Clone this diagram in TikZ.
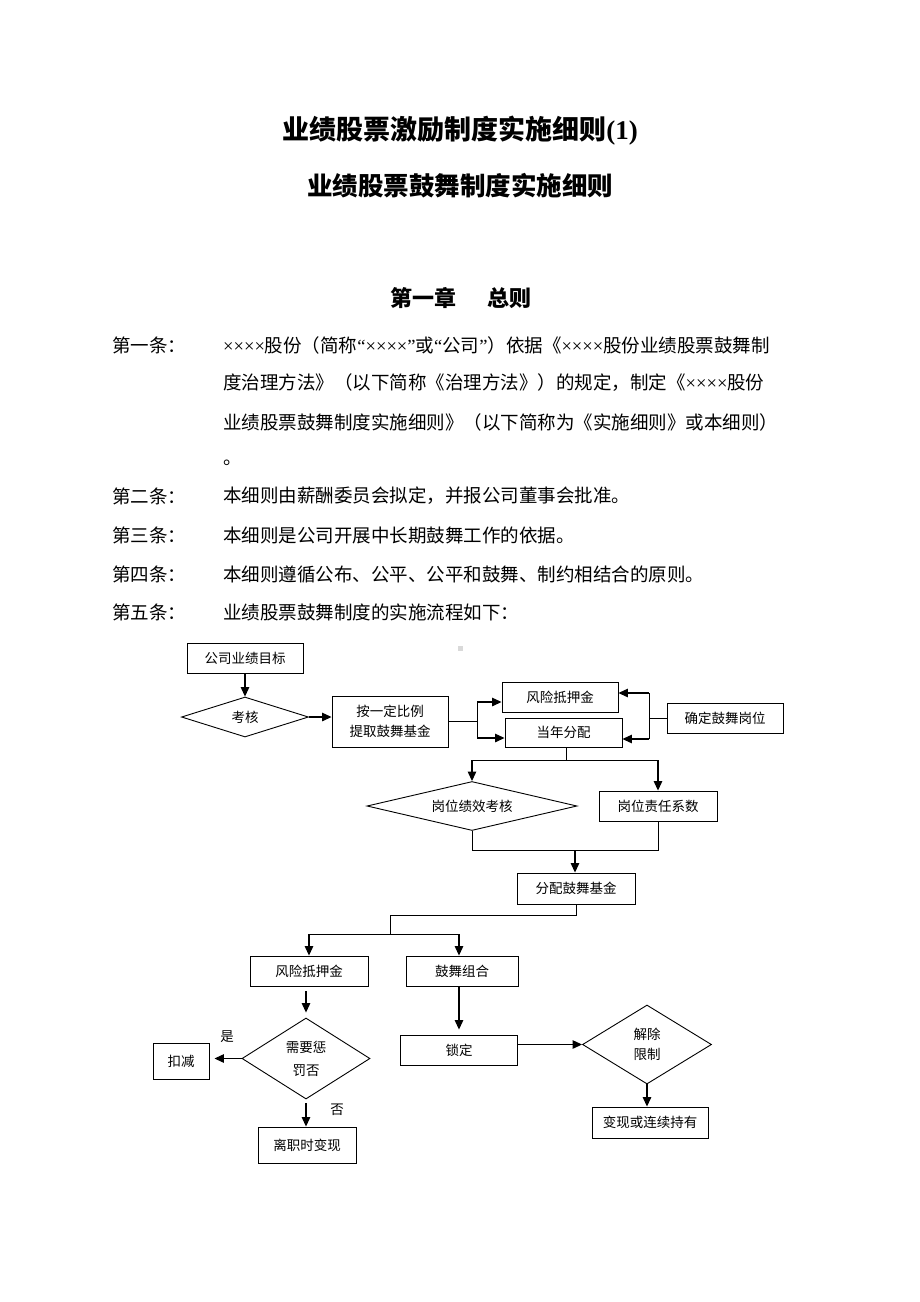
\documentclass[tikz,border=0pt]{standalone}
\usepackage{fontspec}
\setmainfont{Noto Sans CJK SC}
\newfontfamily\latfont{Liberation Serif}
\usetikzlibrary{arrows.meta,shapes.geometric}
\newcommand\fcf{\fontsize{13.5}{20}\selectfont}
\newcommand\bodyf{\fontsize{18.5}{22}\selectfont}
\newcommand\lat[1]{{\latfont #1}}
\begin{document}
\begin{tikzpicture}[x=1pt,y=-1pt,
  box/.style={draw, line width=0.9pt, inner sep=0pt, align=center, font=\fcf},
  dia/.style={diamond, draw, line width=0.9pt, inner sep=0pt, align=center, font=\fcf},
  conn/.style={line width=0.9pt},
  arr/.style={line width=1.2pt, -{Triangle[length=9.5pt,width=8.5pt]}},
  body/.style={anchor=west, inner sep=0pt, font=\bodyf},
  lbl/.style={inner sep=0pt, font=\fcf}]
\fill[white] (0,0) rectangle (920,1302);
\path[use as bounding box] (0,0) rectangle (920,1302);

% titles
\node[font=\fontsize{27}{31}\selectfont\bfseries] (t1) at (460,131) {业绩股票激励制度实施细则{\latfont\bfseries(1)}};
\node[font=\fontsize{25.5}{29}\selectfont\bfseries] (t2) at (460,186) {业绩股票鼓舞制度实施细则};
\node[font=\fontsize{22}{26}\selectfont\bfseries] (t3) at (461,298) {第一章\hspace{32pt}总则};

% body
\node[body] (a1l) at (112,345) {第一条：};
\node[body] (a1t1) at (223,345) {\lat{××××}股份（简称\lat{“××××”}或\lat{“}公司\lat{”}）依据《\lat{××××}股份业绩股票鼓舞制};
\node[body] (a1t2) at (223,383) {度治理方法》（以下简称《治理方法》）的规定，制定《\lat{××××}股份};
\node[body] (a1t3) at (223,422) {业绩股票鼓舞制度实施细则》（以下简称为《实施细则》或本细则）};
\node[body] (a1t4) at (223,463) {。};
\node[body] (a2l) at (112,496) {第二条：};
\node[body] (a2t) at (223,496) {本细则由薪酬委员会拟定，并报公司董事会批准。};
\node[body] (a3l) at (112,535) {第三条：};
\node[body] (a3t) at (223,535) {本细则是公司开展中长期鼓舞工作的依据。};
\node[body] (a4l) at (112,574) {第四条：};
\node[body] (a4t) at (223,574) {本细则遵循公布、公平、公平和鼓舞、制约相结合的原则。};
\node[body] (a5l) at (112,612) {第五条：};
\node[body] (a5t) at (223,612) {业绩股票鼓舞制度的实施流程如下：};

\node[fill=gray!30, minimum size=5pt, inner sep=0pt] (dot) at (460,648) {};

% flowchart nodes
\node[box, minimum width=116pt, minimum height=30pt] (goal) at (245,658) {公司业绩目标};
\node[dia, aspect=3.2, minimum width=127pt, minimum height=40pt] (kh) at (245,717) {考核};
\node[box, minimum width=116pt, minimum height=51pt] (tq) at (390,721.5) {按一定比例\\提取鼓舞基金};
\node[box, minimum width=116pt, minimum height=30pt] (fx1) at (560,697) {风险抵押金};
\node[box, minimum width=117pt, minimum height=29pt] (dn) at (563.5,732.5) {当年分配};
\node[box, minimum width=116pt, minimum height=30pt] (qd) at (725,718) {确定鼓舞岗位};
\node[dia, aspect=4.3, minimum width=210pt, minimum height=49pt] (gx) at (472,806) {岗位绩效考核};
\node[box, minimum width=118pt, minimum height=30pt] (xs) at (658,806) {岗位责任系数};
\node[box, minimum width=118pt, minimum height=31pt] (fp) at (576,888.5) {分配鼓舞基金};
\node[box, minimum width=118pt, minimum height=30pt] (fx2) at (309,971) {风险抵押金};
\node[box, minimum width=112pt, minimum height=30pt] (gw) at (462,971) {鼓舞组合};
\node[dia, aspect=1.58, minimum width=128pt, minimum height=81pt, font=\fontsize{13.5}{23}\selectfont] (xy) at (306,1058.5) {需要惩\\罚否};
\node[box, minimum width=56pt, minimum height=36pt] (kj) at (181,1061) {扣减};
\node[box, minimum width=98pt, minimum height=36pt] (lz) at (307,1145) {离职时变现};
\node[box, minimum width=117pt, minimum height=30pt] (sd) at (459,1050) {锁定};
\node[dia, aspect=1.63, minimum width=129pt, minimum height=79pt] (jc) at (647,1044.5) {解除\\限制};
\node[box, minimum width=116pt, minimum height=31pt] (bx) at (650,1122.5) {变现或连续持有};
\node[lbl] (yes) at (227,1037) {是};
\node[lbl] (no) at (337,1110) {否};

% connectors
\draw[arr] (goal) -- (kh);
\draw[arr] (kh.east) -- (kh.east -| tq.west);
\coordinate (j1) at (477,721.5);
\coordinate (j1t) at (477,702);
\coordinate (j1b) at (477,738);
\draw[conn] (tq.east) -- (j1);
\draw[conn] (j1t) -- (j1b);
\draw[arr] (j1t) -- (j1t -| fx1.west);
\draw[arr] (j1b) -- (j1b -| dn.west);
\coordinate (j2) at (649,718);
\coordinate (j2t) at (649,693);
\coordinate (j2b) at (649,739);
\draw[conn] (qd.west) -- (j2);
\draw[conn] (j2t) -- (j2b);
\draw[arr] (j2t) -- (j2t -| fx1.east);
\draw[arr] (j2b) -- (j2b -| dn.east);
\coordinate (j3) at (566,760);
\draw[conn] (j3 |- dn.south) -- (j3);
\draw[conn] (gx.north |- j3) -- (xs.north |- j3);
\draw[arr] (gx.north |- j3) -- (gx.north);
\draw[arr] (xs.north |- j3) -- (xs.north);
\coordinate (j4) at (575,850);
\draw[conn] (gx.south) -- (gx.south |- j4) -- (xs.south |- j4) -- (xs.south);
\draw[arr] (j4) -- (j4 |- fp.north);
\coordinate (j5) at (576,915);
\coordinate (j6) at (390,934);
\draw[conn] (fp.south) -- (fp.south |- j5) -- (j6 |- j5) -- (j6);
\coordinate (b1) at (309,934);
\coordinate (b2) at (459,934);
\draw[conn] (b1) -- (b2);
\draw[arr] (b1) -- (b1 |- fx2.north);
\draw[arr] (b2) -- (b2 |- gw.north);
\draw[arr, shorten <=5pt, shorten >=5pt] (xy.north |- fx2.south) -- (xy.north);
\draw[arr, shorten >=5pt] (xy.west) -- (kj.east |- xy.west);
\draw[arr, shorten <=4pt] (xy.south) -- (xy.south |- lz.north);
\draw[arr, shorten >=5pt] (b2 |- gw.south) -- (b2 |- sd.north);
\draw[arr] (sd.east |- jc.west) -- (jc.west);
\draw[arr] (jc.south) -- (jc.south |- bx.north);
\end{tikzpicture}
\end{document}
